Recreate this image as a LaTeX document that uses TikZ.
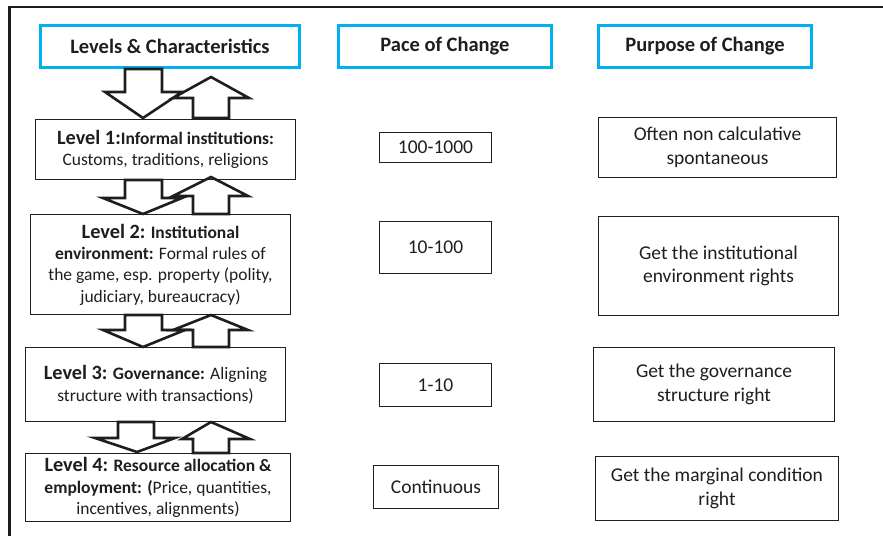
\documentclass[tikz,border=0pt]{standalone}
\usepackage{fontspec}
\setmainfont{Carlito}
\definecolor{hdrblue}{HTML}{00B0F0}
\definecolor{ink}{HTML}{1E1E1E}
\newcommand\Lbig{\fontsize{20.3}{21.3}\selectfont\bfseries}
\newcommand\Lbd{\bfseries}
\begin{document}
\begin{tikzpicture}[x=1pt,y=-1pt,
  frame/.style={draw=ink,line width=2.4pt},
  hdr/.style={draw=hdrblue,line width=3pt,inner sep=0pt,text=ink,
    font=\fontsize{20.5}{24}\selectfont\bfseries},
  lvl/.style={draw=ink,line width=1.7pt,inner sep=0pt,align=center,text=ink,
    font=\fontsize{17.5}{21.3}\selectfont},
  rbox/.style={draw=ink,line width=1.7pt,inner sep=0pt,align=center,text=ink,
    font=\fontsize{19.5}{23.5}\selectfont},
  blk/.style={draw=ink,line width=2.6pt,line join=miter}]
\useasboundingbox (0,0) rectangle (883,536);
\draw[frame] (883,7) -- (9.5,7) -- (9.5,536);
% headers
\node[hdr,minimum width=259,minimum height=42] (h1) at (170,46.5) {Levels \& Characteristics};
\node[hdr,minimum width=213,minimum height=42] (h2) at (445,46.5) {Pace of Change};
\node[hdr,minimum width=213,minimum height=42] (h3) at (705,46.5) {Purpose of Change};
% levels
\node[lvl,minimum width=260,minimum height=60] (l1) at (165.5,149.5)
  {{\Lbig Level 1:}{\Lbd Informal institutions:}\\Customs, traditions, religions};
\node[lvl,minimum width=260,minimum height=100] (l2) at (160.5,264.5)
  {{\Lbig Level 2:} {\Lbd Institutional}\\{\Lbd environment:} Formal rules of\\the game, esp. property (polity,\\judiciary, bureaucracy)};
\node[lvl,minimum width=260,minimum height=74] (l3) at (155.5,384.5)
  {{\Lbig Level 3:} {\Lbd Governance:} Aligning\\structure with transactions)};
\node[lvl,minimum width=265,minimum height=68] (l4) at (158,487.5)
  {{\Lbig Level 4:} {\Lbd Resource allocation \&}\\{\Lbd employment: (}Price, quantities,\\incentives, alignments)};
% pace
\node[rbox,minimum width=112,minimum height=30] (p1) at (435.5,147.5) {100-1000};
\node[rbox,minimum width=112,minimum height=52] (p2) at (435.5,247.5) {10-100};
\node[rbox,minimum width=112,minimum height=43] (p3) at (435.5,385) {1-10};
\node[rbox,minimum width=125,minimum height=43] (p4) at (436,487) {Continuous};
% purpose
\node[rbox,minimum width=238,minimum height=60] (r1) at (717.5,147.5) {Often non calculative\\spontaneous};
\node[rbox,minimum width=240,minimum height=99] (r2) at (718.5,266) {Get the institutional\\environment rights};
\node[rbox,minimum width=241,minimum height=74] (r3) at (714,384.5) {Get the governance\\structure right};
\node[rbox,minimum width=243,minimum height=64] (r4) at (717,488.5) {Get the marginal condition\\right};
% block arrows: header -> level 1
\draw[blk] (125,69) -- (125,92) -- (105,92) -- (143,118) -- (182,92) -- (162,92) -- (162,69) -- cycle;
\draw[blk] (193,118) -- (193,98) -- (173,98) -- (211,77) -- (249,98) -- (229,98) -- (229,118) -- cycle;
% level 1 <-> level 2
\draw[blk] (125,180) -- (125,198) -- (103,198) -- (143,214) -- (182,198) -- (162,198) -- (162,180) -- cycle;
\draw[blk] (193,214) -- (193,196) -- (173,196) -- (211,177) -- (248,196) -- (229,196) -- (229,214) -- cycle;
% level 2 <-> level 3
\draw[blk] (125,315) -- (125,330) -- (103,330) -- (143,347) -- (185,330) -- (162,330) -- (162,315) -- cycle;
\draw[blk] (193,347) -- (193,330) -- (173,330) -- (211,315) -- (248,330) -- (229,330) -- (229,347) -- cycle;
% level 3 <-> level 4
\draw[blk] (118,422) -- (118,438) -- (95,438) -- (137,452) -- (175,438) -- (154,438) -- (154,422) -- cycle;
\draw[blk] (193,453) -- (193,439) -- (182,439) -- (211,422) -- (250,439) -- (229,439) -- (229,453) -- cycle;
\end{tikzpicture}
\end{document}
